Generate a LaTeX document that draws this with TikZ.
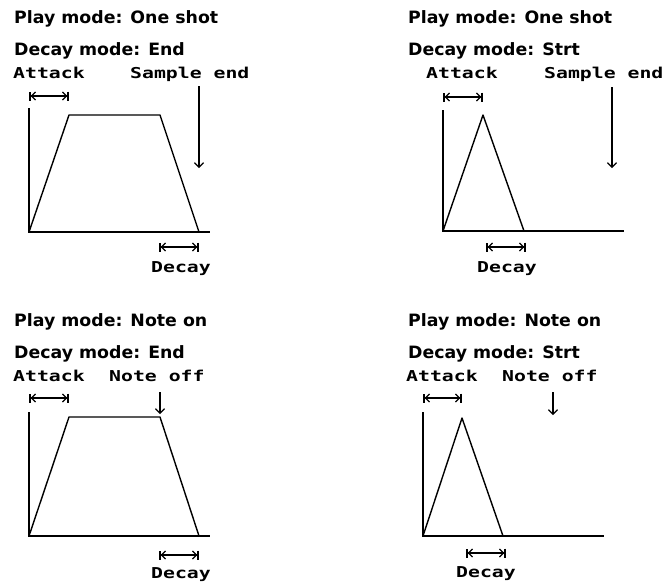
\documentclass[tikz,border=0pt]{standalone}
\usepackage{fontspec}
\usetikzlibrary{arrows.meta}
\newfontfamily\hdrfam{DejaVu Sans}[BoldFont={DejaVu Sans Bold}]
\newfontfamily\monofam{DejaVu Sans Mono}[BoldFont={DejaVu Sans Mono Bold}]
\newcommand{\hdr}[1]{\scalebox{1.02}[1]{\hdrfam\bfseries\fontsize{17}{20}\selectfont #1}}
\newcommand{\mlbl}[1]{\scalebox{1.32}[1]{\monofam\bfseries\fontsize{15}{17}\selectfont #1}}
\tikzset{
  hdrnode/.style={anchor=base west, inner sep=0pt},
  lblnode/.style={anchor=base west, inner sep=0pt},
  declbl/.style={anchor=base, inner sep=0pt},
  axis/.style={line width=1.4pt},
  env/.style={line width=1.4pt, line join=round},
  spanarrow/.style={line width=1.3pt, {Bar[width=9pt,line width=1.6pt]Straight Barb[length=4pt,width=8pt]}-{Straight Barb[length=4pt,width=8pt]Bar[width=9pt,line width=1.6pt]}},
  downarrow/.style={line width=1.2pt, -{Straight Barb[length=4.5pt,width=9pt]}}
}
\begin{document}
\begin{tikzpicture}[x=1pt,y=-1pt]
\useasboundingbox (0,0) rectangle (670,582);

% ---------- Panel 1: One shot / End ----------
\node[hdrnode] (h1a) at (14,23) {\hdr{Play mode: One shot}};
\node[hdrnode] (h1b) at (14,55) {\hdr{Decay mode: End}};
\node[lblnode] (at1) at (13,78) {\mlbl{Attack}};
\node[lblnode] (se1) at (130,78) {\mlbl{Sample end}};
\coordinate (a1s) at (29,96);
\coordinate (a1e) at (69,96);
\draw[spanarrow] (a1s) -- (a1e);
\coordinate (o1) at (29,232);
\coordinate (y1) at (29,108);
\coordinate (x1) at (210,232);
\draw[axis] (y1) -- (o1) -- (x1);
\coordinate (p1a) at (69,115);
\coordinate (p1b) at (160,115);
\coordinate (p1c) at (199,232);
\draw[env] (o1) -- (p1a) -- (p1b) -- (p1c);
\coordinate (s1t) at (199,86);
\coordinate (s1b) at (199,168);
\draw[downarrow] (s1t) -- (s1b);
\coordinate (d1s) at (159,247);
\coordinate (d1e) at (199,247);
\draw[spanarrow] (d1s) -- (d1e);
\node[declbl] (dl1) at (181,272) {\mlbl{Decay}};

% ---------- Panel 2: One shot / Strt ----------
\node[hdrnode] (h2a) at (408,23) {\hdr{Play mode: One shot}};
\node[hdrnode] (h2b) at (408,55) {\hdr{Decay mode: Strt}};
\node[lblnode] (at2) at (426,78) {\mlbl{Attack}};
\node[lblnode] (se2) at (544,78) {\mlbl{Sample end}};
\coordinate (a2s) at (443,97);
\coordinate (a2e) at (483,97);
\draw[spanarrow] (a2s) -- (a2e);
\coordinate (o2) at (443,231);
\coordinate (y2) at (443,110);
\coordinate (x2) at (624,231);
\draw[axis] (y2) -- (o2) -- (x2);
\coordinate (p2a) at (483,115);
\coordinate (p2b) at (524,231);
\draw[env] (o2) -- (p2a) -- (p2b);
\coordinate (s2t) at (612,87);
\coordinate (s2b) at (612,168);
\draw[downarrow] (s2t) -- (s2b);
\coordinate (d2s) at (486,247);
\coordinate (d2e) at (526,247);
\draw[spanarrow] (d2s) -- (d2e);
\node[declbl] (dl2) at (507,272) {\mlbl{Decay}};

% ---------- Panel 3: Note on / End ----------
\node[hdrnode] (h3a) at (14,326) {\hdr{Play mode: Note on}};
\node[hdrnode] (h3b) at (14,358) {\hdr{Decay mode: End}};
\node[lblnode] (at3) at (13,381) {\mlbl{Attack}};
\node[lblnode] (no3) at (109,381) {\mlbl{Note off}};
\coordinate (a3s) at (29,398);
\coordinate (a3e) at (69,398);
\draw[spanarrow] (a3s) -- (a3e);
\coordinate (o3) at (29,536);
\coordinate (y3) at (29,412);
\coordinate (x3) at (210,536);
\draw[axis] (y3) -- (o3) -- (x3);
\coordinate (p3a) at (69,417);
\coordinate (p3b) at (160,417);
\coordinate (p3c) at (199,536);
\draw[env] (o3) -- (p3a) -- (p3b) -- (p3c);
\coordinate (n3t) at (160,392);
\coordinate (n3b) at (160,414);
\draw[downarrow] (n3t) -- (n3b);
\coordinate (d3s) at (159,555);
\coordinate (d3e) at (199,555);
\draw[spanarrow] (d3s) -- (d3e);
\node[declbl] (dl3) at (181,578) {\mlbl{Decay}};

% ---------- Panel 4: Note on / Strt ----------
\node[hdrnode] (h4a) at (408,326) {\hdr{Play mode: Note on}};
\node[hdrnode] (h4b) at (408,358) {\hdr{Decay mode: Strt}};
\node[lblnode] (at4) at (406,381) {\mlbl{Attack}};
\node[lblnode] (no4) at (502,381) {\mlbl{Note off}};
\coordinate (a4s) at (423,398);
\coordinate (a4e) at (462,398);
\draw[spanarrow] (a4s) -- (a4e);
\coordinate (o4) at (423,536);
\coordinate (y4) at (423,412);
\coordinate (x4) at (604,536);
\draw[axis] (y4) -- (o4) -- (x4);
\coordinate (p4a) at (462,418);
\coordinate (p4b) at (503,536);
\draw[env] (o4) -- (p4a) -- (p4b);
\coordinate (n4t) at (553,392);
\coordinate (n4b) at (553,415);
\draw[downarrow] (n4t) -- (n4b);
\coordinate (d4s) at (466,553);
\coordinate (d4e) at (506,553);
\draw[spanarrow] (d4s) -- (d4e);
\node[declbl] (dl4) at (486,577) {\mlbl{Decay}};
\end{tikzpicture}
\end{document}
